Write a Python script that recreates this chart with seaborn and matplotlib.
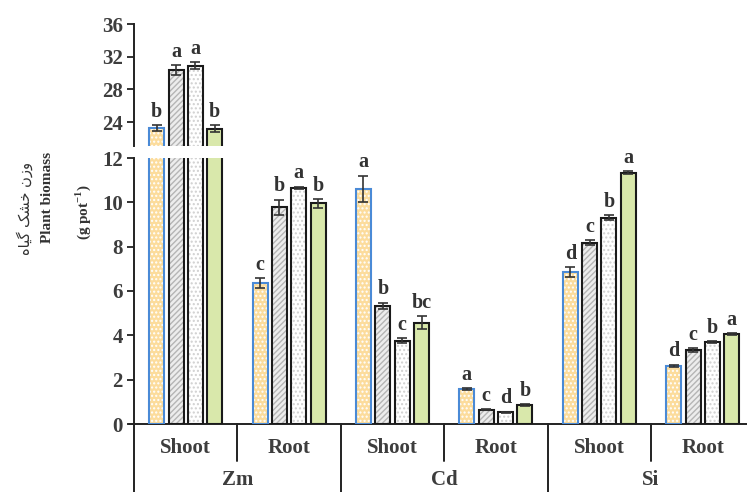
import numpy as np
import pandas as pd
import matplotlib
matplotlib.use("Agg")
import matplotlib.pyplot as plt
from matplotlib.patches import Rectangle
import matplotlib.transforms as mtransforms
import seaborn as sns

# --- data ---
elements = ["Zm", "Zm", "Cd", "Cd", "Si", "Si"]
parts = ["Shoot", "Root", "Shoot", "Root", "Shoot", "Root"]
treatments = ["T1", "T2", "T3", "T4"]

biomass = [
    [23.3, 30.4, 30.9, 23.2],    # Zm shoot
    [6.35, 9.77, 10.65, 9.95],   # Zm root
    [10.6, 5.33, 3.76, 4.57],    # Cd shoot
    [1.58, 0.65, 0.53, 0.86],    # Cd root
    [6.87, 8.18, 9.31, 11.34],   # Si shoot
    [2.62, 3.33, 3.71, 4.06],    # Si root
]
errors = [
    [0.35, 0.6, 0.45, 0.45],
    [0.22, 0.35, 0.06, 0.2],
    [0.6, 0.15, 0.1, 0.3],
    [0.04, 0.03, 0.03, 0.03],
    [0.22, 0.12, 0.12, 0.06],
    [0.05, 0.08, 0.04, 0.03],
]
letters = [
    ["b", "a", "a", "b"],
    ["c", "b", "a", "b"],
    ["a", "b", "c", "bc"],
    ["a", "c", "d", "b"],
    ["d", "c", "b", "a"],
    ["d", "c", "b", "a"],
]

groups = [f"{e} {p}" for e, p in zip(elements, parts)]
rows = []
for gi, g in enumerate(groups):
    for ti, t in enumerate(treatments):
        rows.append({"group": g, "treat": t, "value": biomass[gi][ti]})
df = pd.DataFrame(rows)

# bar styling: face, hatch colour, hatch, outline
styles = {
    0: dict(face="#fcdc9c", hcol="#ffffff", hatch="....", edge="#4a8ad6"),
    1: dict(face="#ededed", hcol="#b5b5b5", hatch="//////", edge="#1a1a1a"),
    2: dict(face="#ffffff", hcol="#d0d0d0", hatch="....", edge="#1a1a1a"),
    3: dict(face="#d9e8ab", hcol="#d9e8ab", hatch="", edge="#1a1a1a"),
}

sns.set_theme(style="ticks")
plt.rcParams["font.family"] = ["Liberation Serif", "DejaVu Sans"]
plt.rcParams["mathtext.fontset"] = "custom"
plt.rcParams["mathtext.rm"] = "Liberation Serif"
plt.rcParams["mathtext.bf"] = "Liberation Serif:bold"
plt.rcParams["hatch.linewidth"] = 1.0

W, H = 747, 492
fig = plt.figure(figsize=(W / 100, H / 100), dpi=100)
left = 134 / W
width = 620.4 / W
ax_bot = fig.add_axes([left, 1 - 424 / H, width, (424 - 158) / H])
ax_top = fig.add_axes([left, 1 - 146 / H, width, (146 - 24) / H])

txt_col = "#3d3d3d"
spine_col = "#222222"
pitch = 0.187

for ax in (ax_top, ax_bot):
    sns.barplot(data=df, x="group", y="value", hue="treat", hue_order=treatments,
                order=groups, width=4 * pitch, gap=0.225, errorbar=None, legend=False, ax=ax)
    ax.set_xlim(-0.5, 5.5)
    ax.set_xlabel("")
    ax.set_ylabel("")
    for s in ("top", "right"):
        ax.spines[s].set_visible(False)
    for s in ("left", "bottom"):
        ax.spines[s].set_color(spine_col)
        ax.spines[s].set_linewidth(1.4)
    ax.tick_params(axis="y", length=5, width=1.3, color=spine_col, labelsize=15,
                   labelcolor=txt_col, pad=3)
    ax.tick_params(axis="x", length=0, labelbottom=False)

    # restyle bars and add error bars / letters
    bars = [p for p in ax.patches if isinstance(p, Rectangle) and p.get_width() < 0.5]
    for p in bars:
        xc = p.get_x() + p.get_width() / 2
        gi = int(round(xc))
        ti = int(round((xc - gi + 2 * pitch) / pitch - 0.5))
        st = styles[ti]
        p.set_facecolor(st["face"])
        p.set_edgecolor(st["hcol"])
        p.set_hatch(st["hatch"])
        p.set_linewidth(0)
        ax.add_patch(Rectangle((p.get_x(), 0), p.get_width(), p.get_height(),
                               facecolor="none", edgecolor=st["edge"], lw=1.5, zorder=3))
        val = biomass[gi][ti]
        err = errors[gi][ti]
        ax.errorbar(xc, val, yerr=err, fmt="none", ecolor="#333333", elinewidth=1.2,
                    capsize=3.5, capthick=1.2, zorder=4)
        lo, hi = (21.07, 36) if ax is ax_top else (0, 12)
        if lo < val + err < hi:
            ax.annotate(letters[gi][ti], (xc, val + err), xytext=(0, 6),
                        textcoords="offset points", ha="center", va="baseline",
                        fontsize=14.5, fontweight="bold", color="#333333")

ax_top.set_ylim(21.07, 36)
ax_top.set_yticks([24, 28, 32, 36])
ax_top.spines["bottom"].set_visible(False)
ax_bot.set_ylim(0, 12)
ax_bot.set_yticks(range(0, 13, 2))
for ax in (ax_top, ax_bot):
    for lab in ax.get_yticklabels():
        lab.set_fontweight("bold")

# two-level category axis
trans = mtransforms.blended_transform_factory(ax_bot.transData, ax_bot.transAxes)
h_ax = 424 - 158
for i, p in enumerate(parts):
    ax_bot.text(i, -(448 - 424) / h_ax, p, transform=trans, ha="center", va="center",
                fontsize=15, fontweight="bold", color=txt_col, clip_on=False)
for i in range(0, 6, 2):
    ax_bot.text(i + 0.5, -(480 - 424) / h_ax, elements[i], transform=trans, ha="center",
                va="center", fontsize=15, fontweight="bold", color=txt_col, clip_on=False)
for xb in (-0.5, 1.5, 3.5, 5.5):
    ax_bot.plot([xb, xb], [0, -(500 - 424) / h_ax], transform=trans, color=spine_col,
                lw=1.4, clip_on=False)
for xb in (0.5, 2.5, 4.5):
    ax_bot.plot([xb, xb], [0, -(461 - 424) / h_ax], transform=trans, color=spine_col,
                lw=1.4, clip_on=False)
ax_bot.plot([-0.5 - 0.05, -0.5], [0, 0], transform=trans, color=spine_col, lw=1.3,
            clip_on=False)

# y label: Persian + English, rotated
fa_visual = "\uFEE9\uFE8E\uFBFF\uFB94 \uFB8F\uFEB8\uFEA7 \uFEE5\uFEAF\uFEED"
fig.text(25 / W, 1 - 208 / H, fa_visual, rotation=90, ha="center", va="center",
         fontsize=10.5, color="#333333", family=["DejaVu Sans"])
fig.text(48 / W, 1 - 197 / H, "Plant biomass", rotation=90, ha="center", va="center",
         fontsize=11, fontweight="bold", color="#333333")
fig.text(83 / W, 1 - 212 / H, r"(g pot$^{\mathbf{-1}}$)", rotation=90, ha="center",
         va="center", fontsize=11, fontweight="bold", color="#333333")

fig.savefig("out.png", dpi=100)
